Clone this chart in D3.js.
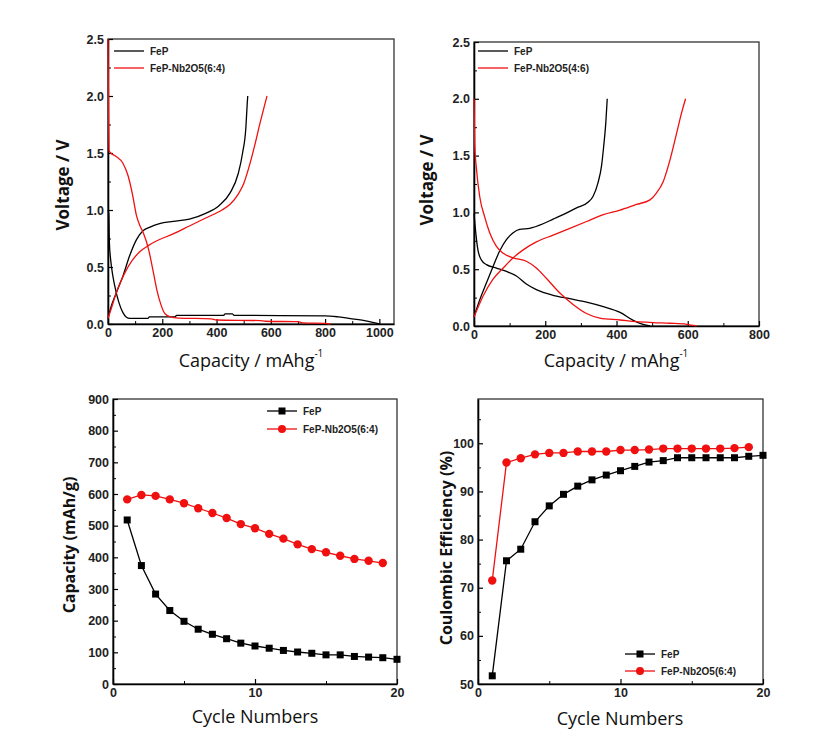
<!DOCTYPE html>
<html><head><meta charset="utf-8">
<script src="https://cdn.jsdelivr.net/npm/d3@7"></script>
<style>body{margin:0;background:#fff}svg{display:block}</style>
</head><body>
<svg id="c" width="839" height="745"></svg>
<script>
// ---------- DATA ----------
// Top-left: FeP vs FeP-Nb2O5(6:4)  [capacity mAh/g, voltage V]
const tlFePDischarge = [[0,1.0],[3,0.97],[5,0.72],[10,0.56],[18,0.42],[28,0.3],[40,0.19],[55,0.1],[68,0.06],[80,0.05],[148,0.05],[152,0.063],[248,0.063],[252,0.075],[425,0.075],[432,0.088],[458,0.088],[465,0.076],[800,0.072],[850,0.062],[900,0.045],[950,0.028],[1000,0.0]];
const tlFePCharge = [[0,0.05],[10,0.14],[30,0.27],[55,0.42],[80,0.6],[105,0.74],[130,0.82],[155,0.85],[190,0.88],[240,0.9],[300,0.92],[360,0.97],[410,1.04],[450,1.15],[480,1.32],[496,1.5],[508,1.72],[513,1.93],[515,2.0]];
const tlNbDischarge = [[0,2.5],[2,1.9],[4,1.52],[10,1.5],[30,1.47],[55,1.41],[74,1.3],[90,1.14],[105,0.95],[118,0.86],[130,0.8],[150,0.65],[165,0.48],[180,0.3],[195,0.17],[210,0.09],[230,0.062],[260,0.052],[380,0.045],[400,0.035],[560,0.03],[580,0.024],[700,0.02],[720,0.01],[800,0.005],[820,0.0]];
const tlNbCharge = [[0,0.05],[10,0.12],[30,0.27],[60,0.44],[90,0.56],[120,0.64],[150,0.69],[180,0.73],[240,0.79],[300,0.86],[360,0.93],[420,1.0],[450,1.05],[480,1.14],[500,1.23],[520,1.38],[540,1.56],[560,1.76],[575,1.9],[586,2.0]];

// Top-right: FeP vs FeP-Nb2O5(4:6)
const trFePDischarge = [[0,0.99],[5,0.82],[11,0.67],[21,0.58],[35,0.54],[63,0.51],[91,0.48],[119,0.44],[147,0.37],[175,0.32],[222,0.27],[269,0.24],[316,0.21],[363,0.17],[410,0.12],[447,0.05],[470,0.018],[494,0.0]];
const trFePCharge = [[0,0.08],[16,0.23],[35,0.38],[53,0.52],[72,0.66],[91,0.76],[110,0.82],[128,0.85],[156,0.86],[194,0.9],[222,0.94],[250,0.98],[288,1.04],[320,1.09],[334,1.14],[348,1.26],[358,1.41],[364,1.58],[370,1.79],[374,2.0]];
const trNbDischarge = [[0,2.0],[2,1.6],[7,1.38],[16,1.14],[30,0.96],[44,0.82],[63,0.7],[82,0.64],[110,0.6],[147,0.57],[175,0.51],[203,0.42],[241,0.29],[278,0.19],[316,0.11],[353,0.07],[410,0.053],[456,0.038],[503,0.03],[550,0.024],[597,0.015],[625,0.0]];
const trNbCharge = [[0,0.08],[25,0.26],[53,0.41],[82,0.51],[110,0.6],[138,0.67],[175,0.74],[222,0.8],[269,0.86],[316,0.92],[363,0.98],[410,1.02],[456,1.07],[494,1.11],[512,1.17],[531,1.27],[550,1.46],[569,1.7],[583,1.88],[594,2.0]];

// Bottom: cycling
const cycles = [1,2,3,4,5,6,7,8,9,10,11,12,13,14,15,16,17,18,19,20];
const capFeP = [518,374,284,232,198,173,157,143,129,120,113,106,101,97,92,92,87,85,83,78];
const capNb  = [583,597,594,583,571,555,540,524,505,492,474,459,441,426,416,405,395,389,382];
const ceFeP  = [51.7,75.6,78,83.7,87,89.4,91.1,92.4,93.4,94.3,95.2,96.1,96.4,97,97,97,97,97,97.3,97.5];
const ceNb   = [71.5,96,96.9,97.7,98,98,98.3,98.3,98.3,98.6,98.6,98.7,98.9,98.9,98.9,98.9,98.9,99.0,99.2];

// tick values
const voltTicks = [0,0.5,1.0,1.5,2.0,2.5];
const tlCapTicks = [0,200,400,600,800,1000];
const trCapTicks = [0,200,400,600,800];
const cycleTicks = [0,10,20];
const capYTicks = [0,100,200,300,400,500,600,700,800,900];
const ceTicks = [50,60,70,80,90,100];

// ---------- DRAW ----------
const svg = d3.select('#c');
const RED = '#f01010';
const tickFont = '"Liberation Sans", Arial, sans-serif';

function panel(o){
  const g = svg.append('g');
  const x = d3.scaleLinear().domain(o.xd).range([o.l,o.r]);
  const y = d3.scaleLinear().domain(o.yd).range([o.b,o.t]);
  g.append('rect').attr('x',o.l).attr('y',o.t).attr('width',o.r-o.l).attr('height',o.b-o.t)
    .attr('fill','none').attr('stroke','#333').attr('stroke-width',1.3);
  // minor ticks
  const xa = d3.axisBottom(x).tickValues(o.xt).tickSizeInner(-5).tickSizeOuter(0).tickPadding(4).tickFormat(o.xf||d3.format('d'));
  const ya = d3.axisLeft(y).tickValues(o.yt).tickSizeInner(-5).tickSizeOuter(0).tickPadding(4).tickFormat(o.yf||d3.format('d'));
  const gx = g.append('g').attr('transform',`translate(0,${o.b})`).call(xa);
  const gy = g.append('g').attr('transform',`translate(${o.l},0)`).call(ya);
  g.append('g').attr('transform',`translate(0,${o.b})`)
    .call(d3.axisBottom(x).tickValues(o.xm).tickSize(-3).tickFormat(''))
    .select('.domain').remove();
  g.append('g').attr('transform',`translate(${o.l},0)`)
    .call(d3.axisLeft(y).tickValues(o.ym).tickSize(-3).tickFormat(''))
    .select('.domain').remove();
  [gx,gy].forEach(a=>{
    a.select('.domain').attr('stroke','#000').attr('stroke-width',1.6);
    a.selectAll('.tick line').attr('stroke','#000').attr('stroke-width',1.2);
    a.selectAll('.tick text').attr('font-family',tickFont).attr('font-weight','bold')
      .attr('font-size',12.5).attr('fill','#222');
  });
  g.selectAll('.tick line').attr('stroke','#000');
  return {g,x,y};
}

function curve(p, data, color){
  const line = d3.line().x(d=>p.x(d[0])).y(d=>p.y(d[1])).curve(d3.curveMonotoneX);
  p.g.append('path').attr('d',line(data)).attr('fill','none').attr('stroke',color).attr('stroke-width',1.3);
}

function legendLine(g, x0, y0, label, color, marker){
  g.append('line').attr('x1',x0).attr('x2',x0+30).attr('y1',y0).attr('y2',y0).attr('stroke',color).attr('stroke-width',1.3);
  if(marker==='sq') g.append('rect').attr('x',x0+15-3.5).attr('y',y0-3.5).attr('width',7).attr('height',7).attr('fill','#000');
  if(marker==='ci') g.append('circle').attr('cx',x0+15).attr('cy',y0).attr('r',4).attr('fill',RED);
  g.append('text').attr('x',x0+36).attr('y',y0+3.8).text(label)
    .attr('font-family',tickFont).attr('font-weight','bold').attr('font-size',10).attr('fill','#222');
}

function ytitle(text, cx, cy, size){
  svg.append('text').attr('transform',`translate(${cx},${cy}) rotate(-90)`).attr('text-anchor','middle')
    .attr('dominant-baseline','central')
    .attr('font-family','"Open Sans", "Noto Sans", sans-serif').attr('font-weight','bold').attr('font-size',size).attr('fill','#111').text(text);
}
function xtitle(cx, by, sup){
  const t = svg.append('text').attr('x',cx).attr('y',by).attr('text-anchor','middle')
    .attr('font-family','"Open Sans", "Noto Sans", sans-serif').attr('font-size',18).attr('fill','#111');
  if(sup){
    t.append('tspan').text('Capacity / mAhg');
    t.append('tspan').attr('dy',-10).attr('font-size',10).text('-1');
  } else t.text('Cycle Numbers');
}

const vf = d3.format('.1f');
const mid = (arr)=>arr.slice(0,-1).map((v,i)=>(v+arr[i+1])/2);

// Top-left
const p1 = panel({l:108,r:394,t:39,b:324,xd:[0,1054],yd:[0,2.5],xt:tlCapTicks,yt:voltTicks,xm:[100,300,500,700,900],ym:mid(voltTicks),yf:vf});
curve(p1, tlFePDischarge, '#000');
curve(p1, tlFePCharge, '#000');
curve(p1, tlNbDischarge, RED);
curve(p1, tlNbCharge, RED);
legendLine(p1.g, 114, 51, 'FeP', '#000');
legendLine(p1.g, 114, 68, 'FeP-Nb2O5(6:4)', RED);
ytitle('Voltage / V', 62, 185, 17);
xtitle(251, 367, true);

// Top-right
const p2 = panel({l:474,r:759,t:42,b:326,xd:[0,800],yd:[0,2.5],xt:trCapTicks,yt:voltTicks,xm:[100,300,500,700],ym:mid(voltTicks),yf:vf});
curve(p2, trFePDischarge, '#000');
curve(p2, trFePCharge, '#000');
curve(p2, trNbDischarge, RED);
curve(p2, trNbCharge, RED);
legendLine(p2.g, 478, 51, 'FeP', '#000');
legendLine(p2.g, 478, 68, 'FeP-Nb2O5(4:6)', RED);
ytitle('Voltage / V', 426, 180, 17);
xtitle(616, 367, true);

// Bottom-left
const p3 = panel({l:113,r:397,t:399,b:684,xd:[0,20],yd:[0,900],xt:cycleTicks,yt:capYTicks,xm:[5,15],ym:mid(capYTicks)});
const lin3 = (vals)=>d3.line().x((d,i)=>p3.x(cycles[i])).y(d=>p3.y(d))(vals);
p3.g.append('path').attr('d',lin3(capFeP)).attr('fill','none').attr('stroke','#000').attr('stroke-width',1.3);
p3.g.append('path').attr('d',lin3(capNb)).attr('fill','none').attr('stroke',RED).attr('stroke-width',1.3);
p3.g.selectAll('.sq').data(capFeP).join('rect').attr('x',(d,i)=>p3.x(cycles[i])-3.5).attr('y',d=>p3.y(d)-3.5).attr('width',7).attr('height',7).attr('fill','#000');
p3.g.selectAll('.ci').data(capNb).join('circle').attr('cx',(d,i)=>p3.x(cycles[i])).attr('cy',d=>p3.y(d)).attr('r',4.2).attr('fill',RED);
legendLine(p3.g, 267, 411, 'FeP', '#000', 'sq');
legendLine(p3.g, 267, 429, 'FeP-Nb2O5(6:4)', RED, 'ci');
ytitle('Capacity  (mAh/g)', 69, 545, 16);
xtitle(255, 723, false);

// Bottom-right
const p4 = panel({l:478,r:763,t:399,b:684,xd:[0,20],yd:[50,109.2],xt:cycleTicks,yt:ceTicks,xm:[5,15],ym:[55,65,75,85,95,105]});
const lin4 = (vals)=>d3.line().x((d,i)=>p4.x(cycles[i])).y(d=>p4.y(d))(vals);
p4.g.append('path').attr('d',lin4(ceFeP)).attr('fill','none').attr('stroke','#000').attr('stroke-width',1.3);
p4.g.append('path').attr('d',lin4(ceNb)).attr('fill','none').attr('stroke',RED).attr('stroke-width',1.3);
p4.g.selectAll('.sq').data(ceFeP).join('rect').attr('x',(d,i)=>p4.x(cycles[i])-3.5).attr('y',d=>p4.y(d)-3.5).attr('width',7).attr('height',7).attr('fill','#000');
p4.g.selectAll('.ci').data(ceNb).join('circle').attr('cx',(d,i)=>p4.x(cycles[i])).attr('cy',d=>p4.y(d)).attr('r',4.2).attr('fill',RED);
legendLine(p4.g, 625, 654, 'FeP', '#000', 'sq');
legendLine(p4.g, 625, 671, 'FeP-Nb2O5(6:4)', RED, 'ci');
ytitle('Coulombic Efficiency (%)', 446, 548, 16);
xtitle(620, 725, false);
</script>
</body></html>
